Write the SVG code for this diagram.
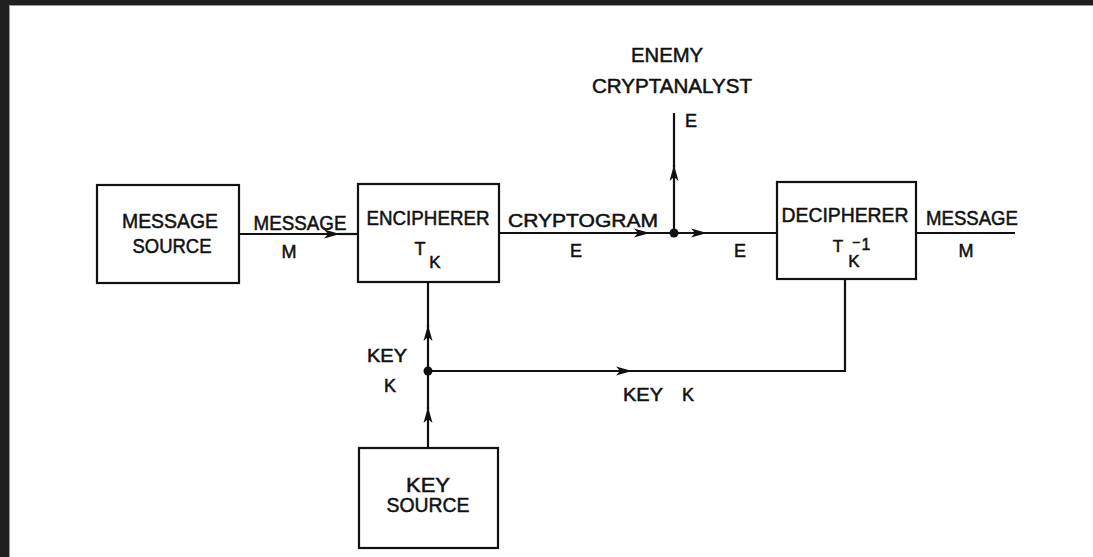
<svg xmlns="http://www.w3.org/2000/svg" width="1093" height="557" viewBox="0 0 1093 557">
<style>
.box{fill:none;stroke:#111;stroke-width:2.2}
.ln{fill:none;stroke:#111;stroke-width:2.2}
.t{font-family:"Liberation Sans",Arial,sans-serif;fill:#111;stroke:#111;stroke-width:0.5;text-anchor:middle}
.b{font-size:20px}
.s{font-size:18px}
</style>
<defs>
<marker id="ah" markerUnits="userSpaceOnUse" markerWidth="18" markerHeight="12" refX="16" refY="6" orient="auto">
<path d="M0,1.5 L16,6 L0,10.5 L4,6 z" fill="#111"/>
</marker>
</defs>
<rect x="0" y="0" width="1093" height="557" fill="#1f1f1f"/>
<rect x="9.5" y="5.5" width="1084" height="552" fill="#fff" stroke="#9a9a9a" stroke-width="1"/>

<g id="connectors">
<path class="ln" d="M239,234 L340,234" marker-end="url(#ah)"/>
<path class="ln" d="M338,234 L358,234"/>
<path class="ln" d="M500,233 L650,233" marker-end="url(#ah)"/>
<path class="ln" d="M648,233 L707,233" marker-end="url(#ah)"/>
<path class="ln" d="M705,233 L777,233"/>
<path class="ln" d="M674,233 L674,165" marker-end="url(#ah)"/>
<path class="ln" d="M674,167 L674,113"/>
<path class="ln" d="M916,233 L1015,233"/>
<path class="ln" d="M428,448 L428,407" marker-end="url(#ah)"/>
<path class="ln" d="M428,409 L428,325" marker-end="url(#ah)"/>
<path class="ln" d="M428,327 L428,282"/>
<path class="ln" d="M428,371 L632,371" marker-end="url(#ah)"/>
<path class="ln" d="M630,371 L845,371 L845,279"/>
<circle cx="674" cy="233" r="4.5" fill="#111"/>
<circle cx="428" cy="371" r="4.5" fill="#111"/>
<text class="t b" x="300" y="230" textLength="93" lengthAdjust="spacingAndGlyphs">MESSAGE</text>
<text class="t s" x="289" y="258">M</text>
<text class="t s" x="583" y="227" textLength="150" lengthAdjust="spacingAndGlyphs">CRYPTOGRAM</text>
<text class="t s" x="576" y="257">E</text>
<text class="t s" x="691" y="127">E</text>
<text class="t s" x="740" y="257">E</text>
<text class="t b" x="972" y="225" textLength="92" lengthAdjust="spacingAndGlyphs">MESSAGE</text>
<text class="t s" x="966" y="257">M</text>
<text class="t s" x="387" y="362" textLength="40" lengthAdjust="spacingAndGlyphs">KEY</text>
<text class="t s" x="390" y="392">K</text>
<text class="t s" x="643" y="401" textLength="40" lengthAdjust="spacingAndGlyphs">KEY</text>
<text class="t s" x="688" y="401">K</text>
</g>

<g id="enemy">
<text class="t b" x="667" y="62" textLength="72" lengthAdjust="spacingAndGlyphs">ENEMY</text>
<text class="t b" x="672" y="93" textLength="160" lengthAdjust="spacingAndGlyphs">CRYPTANALYST</text>
</g>

<g id="message-source">
<rect class="box" x="97" y="185" width="142" height="98"/>
<text class="t b" x="170" y="228" textLength="96" lengthAdjust="spacingAndGlyphs">MESSAGE</text>
<text class="t b" x="172" y="253" textLength="79" lengthAdjust="spacingAndGlyphs">SOURCE</text>
</g>

<g id="encipherer">
<rect class="box" x="358" y="184" width="141" height="98"/>
<text class="t b" x="428" y="225" textLength="123" lengthAdjust="spacingAndGlyphs">ENCIPHERER</text>
<text class="t" style="font-size:18px" x="420" y="255">T</text>
<text class="t" style="font-size:17px" x="435" y="268">K</text>
</g>

<g id="decipherer">
<rect class="box" x="777" y="182" width="139" height="97"/>
<text class="t b" x="845" y="222" textLength="127" lengthAdjust="spacingAndGlyphs">DECIPHERER</text>
<text class="t" style="font-size:17px" x="838" y="252">T</text>
<text class="t" style="font-size:17px" x="854" y="267">K</text>
<text class="t" style="font-size:14px" x="856" y="247">−</text>
<text class="t" style="font-size:16px" x="866" y="250">1</text>
</g>

<g id="key-source">
<rect class="box" x="359" y="448" width="139" height="100"/>
<text class="t b" x="428" y="492" textLength="44" lengthAdjust="spacingAndGlyphs">KEY</text>
<text class="t b" x="428" y="512" textLength="83" lengthAdjust="spacingAndGlyphs">SOURCE</text>
</g>
</svg>
